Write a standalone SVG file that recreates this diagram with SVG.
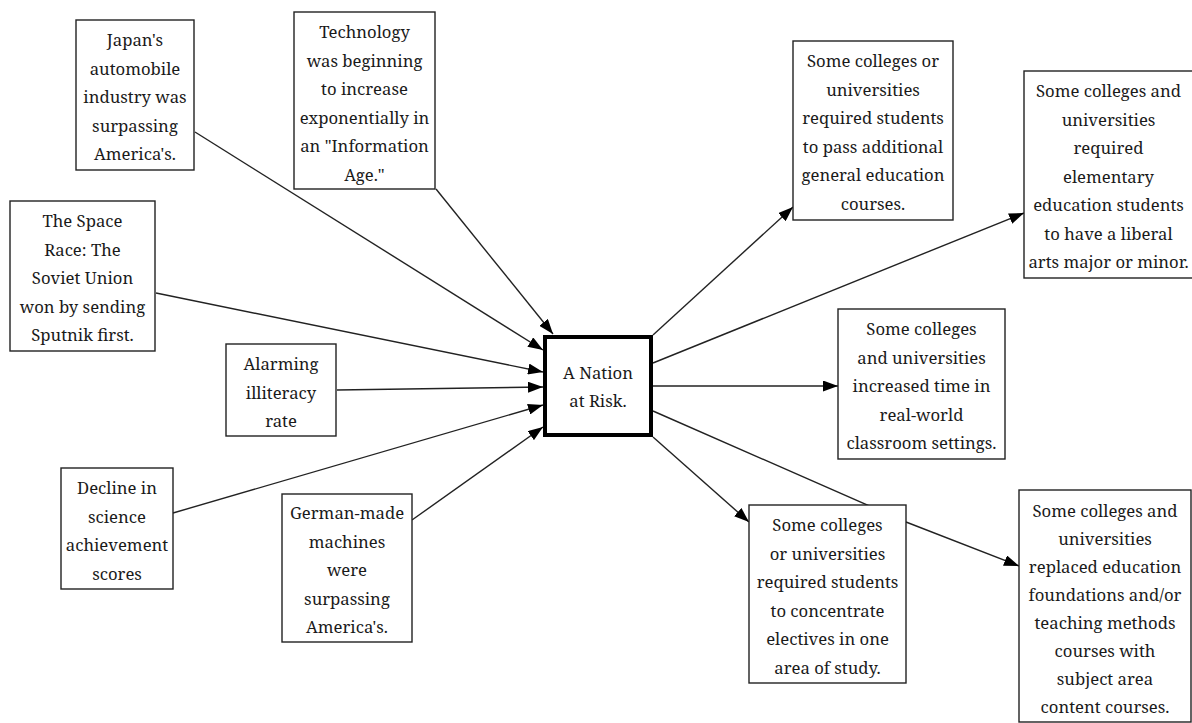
<svg xmlns="http://www.w3.org/2000/svg" width="1192" height="723" viewBox="0 0 1192 723">
<style>
.box{fill:#fff;stroke:#222;stroke-width:1.4}
.main{fill:#fff;stroke:#000;stroke-width:4}
.t{font-family:"Noto Serif","DejaVu Serif",serif;font-size:16.7px;fill:#1a1a1a;text-anchor:middle}
.c{fill:none;stroke:#222;stroke-width:1.4}
</style>
<defs>
<marker id="ah" markerUnits="userSpaceOnUse" markerWidth="15" markerHeight="11" refX="15" refY="5.5" orient="auto">
<path d="M0,0 L15,5.5 L0,11 z" fill="#000"/>
</marker>
</defs>
<rect width="1192" height="723" fill="#fff"/>
<g id="connectors">
<line class="c" x1="195" y1="132" x2="543" y2="350" marker-end="url(#ah)"/>
<line class="c" x1="436" y1="189" x2="553" y2="334" marker-end="url(#ah)"/>
<line class="c" x1="156" y1="293" x2="543" y2="372" marker-end="url(#ah)"/>
<line class="c" x1="337" y1="390" x2="543" y2="387" marker-end="url(#ah)"/>
<line class="c" x1="173" y1="513" x2="543" y2="405" marker-end="url(#ah)"/>
<line class="c" x1="412" y1="520" x2="543" y2="427" marker-end="url(#ah)"/>
<line class="c" x1="653" y1="335" x2="793" y2="207" marker-end="url(#ah)"/>
<line class="c" x1="653" y1="363" x2="1024" y2="213" marker-end="url(#ah)"/>
<line class="c" x1="653" y1="386" x2="838" y2="386" marker-end="url(#ah)"/>
<polyline class="c" points="653,411 906,522 1019,566" marker-end="url(#ah)"/>
<line class="c" x1="653" y1="437" x2="749" y2="522" marker-end="url(#ah)"/>
</g>
<g id="japan">
<rect class="box" x="76" y="20" width="118" height="150"/>
<text class="t" x="135" y="46">Japan's</text>
<text class="t" x="135" y="74.5">automobile</text>
<text class="t" x="135" y="103">industry was</text>
<text class="t" x="135" y="131.5">surpassing</text>
<text class="t" x="135" y="160">America's.</text>
</g>
<g id="technology">
<rect class="box" x="294" y="12" width="141" height="177"/>
<text class="t" x="364.5" y="38">Technology</text>
<text class="t" x="364.5" y="66.5">was beginning</text>
<text class="t" x="364.5" y="95">to increase</text>
<text class="t" x="364.5" y="123.5">exponentially in</text>
<text class="t" x="364.5" y="152">an "Information</text>
<text class="t" x="364.5" y="180.5">Age."</text>
</g>
<g id="space">
<rect class="box" x="10" y="201" width="145" height="150"/>
<text class="t" x="82.5" y="227">The Space</text>
<text class="t" x="82.5" y="255.5">Race: The</text>
<text class="t" x="82.5" y="284">Soviet Union</text>
<text class="t" x="82.5" y="312.5">won by sending</text>
<text class="t" x="82.5" y="341">Sputnik first.</text>
</g>
<g id="alarming">
<rect class="box" x="226" y="344" width="110" height="92"/>
<text class="t" x="281" y="370">Alarming</text>
<text class="t" x="281" y="398.5">illiteracy</text>
<text class="t" x="281" y="427">rate</text>
</g>
<g id="decline">
<rect class="box" x="61" y="468" width="112" height="121"/>
<text class="t" x="117" y="494">Decline in</text>
<text class="t" x="117" y="522.5">science</text>
<text class="t" x="117" y="551">achievement</text>
<text class="t" x="117" y="579.5">scores</text>
</g>
<g id="german">
<rect class="box" x="282" y="494" width="130" height="148"/>
<text class="t" x="347" y="519">German-made</text>
<text class="t" x="347" y="547.5">machines</text>
<text class="t" x="347" y="576">were</text>
<text class="t" x="347" y="604.5">surpassing</text>
<text class="t" x="347" y="633">America's.</text>
</g>
<g id="nation">
<rect class="main" x="545" y="337" width="106" height="98"/>
<text class="t" x="598" y="379">A Nation</text>
<text class="t" x="598" y="407">at Risk.</text>
</g>
<g id="outcome1">
<rect class="box" x="793" y="41" width="160" height="179"/>
<text class="t" x="873" y="67">Some colleges or</text>
<text class="t" x="873" y="95.5">universities</text>
<text class="t" x="873" y="124">required students</text>
<text class="t" x="873" y="152.5">to pass additional</text>
<text class="t" x="873" y="181">general education</text>
<text class="t" x="873" y="209.5">courses.</text>
</g>
<g id="outcome2">
<rect class="box" x="1024" y="71" width="169" height="207"/>
<text class="t" x="1108.5" y="97">Some colleges and</text>
<text class="t" x="1108.5" y="125.5">universities</text>
<text class="t" x="1108.5" y="154">required</text>
<text class="t" x="1108.5" y="182.5">elementary</text>
<text class="t" x="1108.5" y="211">education students</text>
<text class="t" x="1108.5" y="239.5">to have a liberal</text>
<text class="t" x="1108.5" y="268">arts major or minor.</text>
</g>
<g id="outcome3">
<rect class="box" x="838" y="309" width="167" height="150"/>
<text class="t" x="921.5" y="335">Some colleges</text>
<text class="t" x="921.5" y="363.5">and universities</text>
<text class="t" x="921.5" y="392">increased time in</text>
<text class="t" x="921.5" y="420.5">real-world</text>
<text class="t" x="921.5" y="449">classroom settings.</text>
</g>
<g id="outcome4">
<rect class="box" x="749" y="505" width="157" height="178"/>
<text class="t" x="827.5" y="531">Some colleges</text>
<text class="t" x="827.5" y="559.5">or universities</text>
<text class="t" x="827.5" y="588">required students</text>
<text class="t" x="827.5" y="616.5">to concentrate</text>
<text class="t" x="827.5" y="645">electives in one</text>
<text class="t" x="827.5" y="673.5">area of study.</text>
</g>
<g id="outcome5">
<rect class="box" x="1019" y="490" width="172" height="232"/>
<text class="t" x="1105" y="517">Some colleges and</text>
<text class="t" x="1105" y="545">universities</text>
<text class="t" x="1105" y="573">replaced education</text>
<text class="t" x="1105" y="601">foundations and/or</text>
<text class="t" x="1105" y="629">teaching methods</text>
<text class="t" x="1105" y="657">courses with</text>
<text class="t" x="1105" y="685">subject area</text>
<text class="t" x="1105" y="713">content courses.</text>
</g>
</svg>
